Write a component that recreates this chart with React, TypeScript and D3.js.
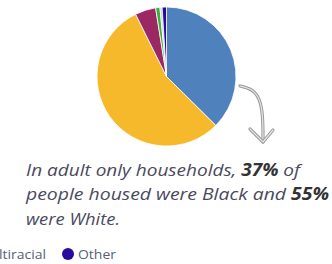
import * as d3 from 'd3';

const races = ['Black', 'White', 'Multiracial', 'Asian', 'Pacific Islander', 'Other'];
const shares = [37.3, 55.0, 4.8, 1.0, 0.5, 1.0];
const colors = ['#4f81bd', '#f6b92c', '#9b2862', '#3fae3a', '#c9cfdc', '#2a0a9e'];

const legendItems = ['Multiracial', 'Other'];
const legendColors = ['#9b2862', '#2a0a9e'];

const W = 332, H = 264;

export default function App() {
  const pie = d3.pie<number>().sort(null).value(d => d);
  const arc = d3.arc<d3.PieArcDatum<number>>().innerRadius(0).outerRadius(69.5);
  const slices = pie(shares);

  const arrow = d3.line<[number, number]>().curve(d3.curveBasis)([
    [240, 86], [256, 90], [263, 108], [263, 142],
  ]);
  const head = 'M250,129 L263,142 L273,130';

  const txt = { fill: '#4a4a5e', fontStyle: 'italic' as const };

  return (
    <svg width={W} height={H} style={{ position: 'absolute', left: 0, top: 0, fontFamily: '"Open Sans", sans-serif' }}>
      <g transform="translate(166.5,76.5)">
        {slices.map((s, i) => (
          <path key={races[i]} d={arc(s) || ''} fill={colors[i]} stroke="#fff" strokeWidth={0.8} />
        ))}
      </g>
      <g fill="none" strokeLinecap="round" strokeLinejoin="round">
        <path d={arrow || ''} stroke="#9a9a9a" strokeWidth={3.2} />
        <path d={arrow || ''} stroke="#e4e4e4" strokeWidth={1.2} />
        <path d={head} stroke="#9a9a9a" strokeWidth={3.2} />
        <path d={head} stroke="#e4e4e4" strokeWidth={1.2} />
      </g>
      <g fontSize={17} {...txt}>
        <text x={26} y={176} textLength={274} lengthAdjust="spacingAndGlyphs">
          In adult only households, <tspan fontWeight="bold" fill="#333">37%</tspan> of
        </text>
        <text x={26} y={200} textLength={303} lengthAdjust="spacingAndGlyphs">
          people housed were Black and <tspan fontWeight="bold" fill="#333">55%</tspan>
        </text>
        <text x={26} y={225} textLength={94} lengthAdjust="spacingAndGlyphs">were White.</text>
      </g>
      <g fontSize={13} fill="#56627a">
        <text x={46} y={259} textAnchor="end" textLength={68} lengthAdjust="spacingAndGlyphs">{legendItems[0]}</text>
        <circle cx={68} cy={254} r={6} fill={legendColors[1]} />
        <text x={78} y={259} textLength={38} lengthAdjust="spacingAndGlyphs">{legendItems[1]}</text>
      </g>
      <circle cx={-26} cy={254} r={6} fill={legendColors[0]} />
    </svg>
  );
}
